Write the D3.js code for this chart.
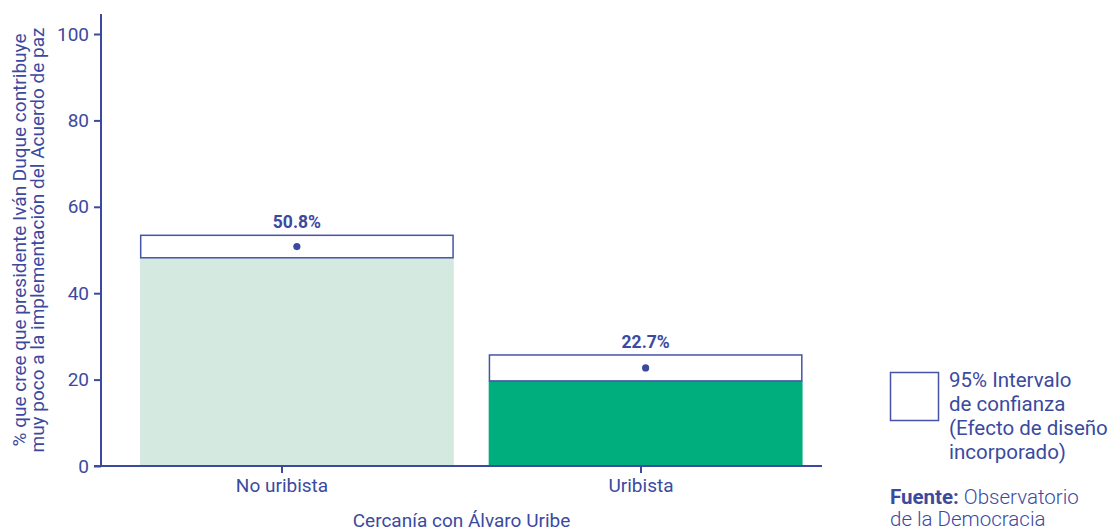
<!DOCTYPE html>
<html>
<head>
<meta charset="utf-8">
<script src="https://cdn.jsdelivr.net/npm/d3@7"></script>
<style>
  html, body { margin: 0; padding: 0; background: #fff; }
  svg { display: block; font-family: Roboto, "Noto Sans", sans-serif; }
</style>
</head>
<body>
<svg id="chart" width="1112" height="531"></svg>
<script>
// Survey estimates with 95% confidence bounds (design effect included)
const categories = ["No uribista", "Uribista"];
const estimates = [50.8, 22.7];
const lowerBounds = [48.2, 19.7];
const upperBounds = [53.4, 25.7];
const barColors = ["#d4e9e0", "#00ad7c"];
const yTicks = [0, 20, 40, 60, 80, 100];

const ink = "#3b4a9f";
const svg = d3.select("#chart");

const plot = { left: 101, right: 822, top: 14, bottom: 466 };

const y = d3.scaleLinear().domain([0, 100]).range([plot.bottom, 34]);
const xBars = d3.scaleBand().domain(categories)
  .range([122.5, 820]).paddingInner(0.1).paddingOuter(0.05);
const xTicks = d3.scalePoint().domain(categories)
  .range([102, 820]).padding(0.5);

// bars reach the lower confidence bound
svg.append("g").selectAll("rect")
  .data(categories)
  .join("rect")
  .attr("x", d => xBars(d))
  .attr("width", xBars.bandwidth())
  .attr("y", (d, i) => y(lowerBounds[i]))
  .attr("height", (d, i) => y(0) - y(lowerBounds[i]))
  .attr("fill", (d, i) => barColors[i]);

// confidence interval boxes
svg.append("g").selectAll("rect")
  .data(categories)
  .join("rect")
  .attr("x", d => xBars(d) + 0.75)
  .attr("width", xBars.bandwidth() - 1.5)
  .attr("y", (d, i) => y(upperBounds[i]))
  .attr("height", (d, i) => y(lowerBounds[i]) - y(upperBounds[i]))
  .attr("fill", "#fff")
  .attr("stroke", "#4554a6")
  .attr("stroke-width", 1.5);

// point estimates
svg.append("g").selectAll("circle")
  .data(categories)
  .join("circle")
  .attr("cx", d => xBars(d) + xBars.bandwidth() / 2)
  .attr("cy", (d, i) => y(estimates[i]))
  .attr("r", 3.6)
  .attr("fill", ink);

// value labels
svg.append("g").selectAll("text")
  .data(categories)
  .join("text")
  .attr("x", d => xBars(d) + xBars.bandwidth() / 2)
  .attr("y", (d, i) => y(upperBounds[i]) - 7)
  .attr("text-anchor", "middle")
  .attr("font-size", "17.5px")
  .attr("font-weight", "bold")
  .attr("fill", ink)
  .text((d, i) => estimates[i].toFixed(1) + "%");

// y axis
const yAxis = svg.append("g")
  .attr("transform", `translate(${plot.left},0)`)
  .call(d3.axisLeft(y).tickValues(yTicks).tickSize(7).tickPadding(5));
yAxis.select(".domain").remove();
yAxis.selectAll("line").attr("stroke", ink).attr("stroke-width", 2);
yAxis.selectAll("text").attr("fill", ink).attr("font-size", "19px")
  .attr("font-family", "Roboto, sans-serif");
svg.append("line")
  .attr("x1", plot.left).attr("x2", plot.left)
  .attr("y1", plot.top).attr("y2", plot.bottom)
  .attr("stroke", ink).attr("stroke-width", 2);

// x axis
const xAxis = svg.append("g")
  .attr("transform", `translate(0,${plot.bottom})`)
  .call(d3.axisBottom(xTicks).tickSize(7).tickPadding(6));
xAxis.select(".domain").remove();
xAxis.selectAll("line").attr("stroke", ink).attr("stroke-width", 2);
xAxis.selectAll("text").attr("fill", ink).attr("font-size", "19px")
  .attr("font-family", "Roboto, sans-serif");
svg.append("line")
  .attr("x1", 94).attr("x2", plot.right)
  .attr("y1", plot.bottom).attr("y2", plot.bottom)
  .attr("stroke", ink).attr("stroke-width", 2);

// axis titles
svg.append("text")
  .attr("x", (plot.left + plot.right) / 2)
  .attr("y", 527)
  .attr("text-anchor", "middle")
  .attr("font-size", "19px")
  .attr("fill", ink)
  .text("Cercanía con Álvaro Uribe");

const yTitle = svg.append("text")
  .attr("transform", `translate(26,${(plot.top + plot.bottom) / 2}) rotate(-90)`)
  .attr("text-anchor", "middle")
  .attr("font-size", "19px")
  .attr("fill", ink);
yTitle.append("tspan").attr("x", 0).attr("dy", 0)
  .text("% que cree que presidente Iván Duque contribuye");
yTitle.append("tspan").attr("x", 0).attr("dy", 18)
  .text("muy poco a la implementación del Acuerdo de paz");

// legend
svg.append("rect")
  .attr("x", 890.5).attr("y", 372.5)
  .attr("width", 48).attr("height", 48)
  .attr("fill", "#fff").attr("stroke", "#4554a6").attr("stroke-width", 1.5);
const legendLines = ["95% Intervalo", "de confianza", "(Efecto de diseño", "incorporado)"];
svg.append("g").selectAll("text")
  .data(legendLines)
  .join("text")
  .attr("x", 949)
  .attr("y", (d, i) => 387 + i * 24)
  .attr("font-size", "20.5px")
  .attr("fill", ink)
  .text(d => d);

// source note
const sourceNote = svg.append("text")
  .attr("font-size", "20.5px")
  .attr("fill", ink);
const line1 = sourceNote.append("tspan").attr("x", 890).attr("y", 504);
line1.append("tspan").attr("font-weight", "bold").text("Fuente:");
line1.append("tspan").attr("font-weight", "300").text(" Observatorio");
sourceNote.append("tspan").attr("x", 890).attr("y", 526)
  .attr("font-weight", "300")
  .text("de la Democracia");
</script>
</body>
</html>
